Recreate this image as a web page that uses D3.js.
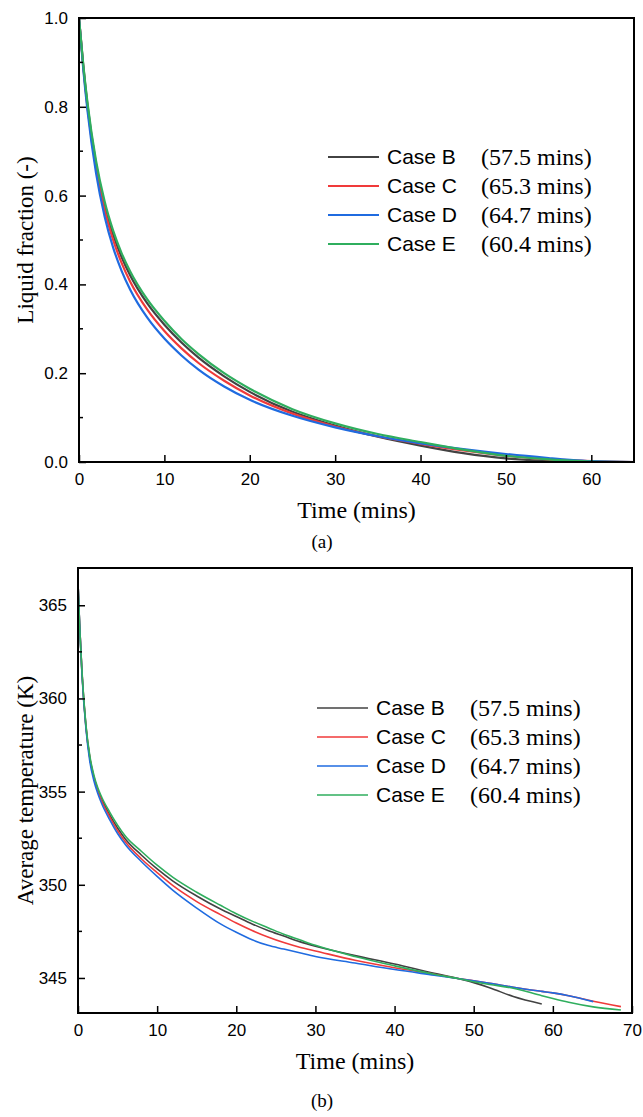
<!DOCTYPE html>
<html>
<head>
<meta charset="utf-8">
<script src="https://cdn.jsdelivr.net/npm/d3@7"></script>
<style>
  body { margin: 0; background: #fff; }
  svg { display: block; }
  .tick text { font-family: "Liberation Sans", Arial, sans-serif; font-size: 17px; fill: #000; }
</style>
</head>
<body>
<svg id="chart" width="643" height="1117"></svg>
<script>
// ---- data ----
let cases = ["Case B", "Case C", "Case D", "Case E"];
let caseTimes = ["(57.5 mins)", "(65.3 mins)", "(64.7 mins)", "(60.4 mins)"];
let caseColors = ["#424242", "#f03a3a", "#1f6be0", "#2fae5e"];

// (a) liquid fraction
let timeA = [0, 0.5, 1, 2, 3, 4, 5, 6, 8, 10, 12, 14, 17, 20, 25, 30, 35, 40, 45, 50, 55, 57.5, 60, 65];
let fracB = [1.0, 0.893, 0.803, 0.670, 0.578, 0.512, 0.461, 0.420, 0.357, 0.309, 0.269, 0.235, 0.193, 0.158, 0.113, 0.082, 0.057, 0.037, 0.020, 0.008, 0.002, 0.0, null, null];
let fracC = [1.0, 0.890, 0.798, 0.662, 0.568, 0.500, 0.448, 0.406, 0.343, 0.295, 0.256, 0.223, 0.183, 0.150, 0.109, 0.080, 0.058, 0.041, 0.026, 0.014, 0.006, 0.004, 0.002, 0.0];
let fracD = [1.0, 0.885, 0.790, 0.650, 0.553, 0.483, 0.430, 0.388, 0.325, 0.278, 0.240, 0.208, 0.170, 0.140, 0.104, 0.078, 0.058, 0.042, 0.029, 0.018, 0.009, 0.005, 0.002, 0.0];
let fracE = [1.0, 0.895, 0.808, 0.678, 0.587, 0.521, 0.470, 0.429, 0.366, 0.318, 0.277, 0.243, 0.200, 0.165, 0.119, 0.087, 0.063, 0.045, 0.028, 0.014, 0.006, 0.003, 0.001, 0.0];

// (b) average temperature
let timeB = [0, 0.2, 0.5, 1, 1.5, 2, 2.5, 3, 4, 5, 6, 8, 10, 12, 15, 18, 20, 22, 24, 26, 28, 30, 35, 40, 45, 48, 50, 52, 55, 58.6, 60, 62, 65.1, 68.6];
let tempB = [366.2, 364.0, 361.4, 358.5, 356.8, 355.8, 355.1, 354.6, 353.75, 353.05, 352.45, 351.6, 350.85, 350.2, 349.4, 348.7, 348.3, 347.9, 347.55, 347.25, 346.95, 346.7, 346.2, 345.75, 345.25, 344.97, 344.75, 344.48, 344.0, 343.6, null, null, null, null];
let tempC = [366.2, 364.0, 361.4, 358.5, 356.8, 355.75, 355.05, 354.5, 353.65, 352.9, 352.3, 351.4, 350.65, 349.95, 349.1, 348.4, 347.95, 347.55, 347.2, 346.9, 346.65, 346.45, 345.95, 345.55, 345.2, 344.97, 344.85, 344.72, 344.5, 344.28, 344.2, 344.05, 343.75, 343.46];
let tempD = [366.2, 364.0, 361.3, 358.4, 356.6, 355.6, 354.9, 354.35, 353.5, 352.75, 352.15, 351.25, 350.45, 349.7, 348.75, 347.9, 347.45, 347.05, 346.75, 346.55, 346.35, 346.15, 345.8, 345.45, 345.15, 344.97, 344.85, 344.72, 344.5, 344.28, 344.2, 344.05, 343.73, null];
let tempE = [366.2, 364.0, 361.5, 358.6, 356.9, 355.9, 355.2, 354.7, 353.9, 353.2, 352.6, 351.8, 351.05, 350.4, 349.6, 348.9, 348.45, 348.05, 347.7, 347.35, 347.05, 346.75, 346.15, 345.65, 345.2, 344.97, 344.8, 344.65, 344.45, 344.05, 343.9, 343.7, 343.45, 343.28];

let xTicksA = [0, 10, 20, 30, 40, 50, 60];
let yTicksA = [0.0, 0.2, 0.4, 0.6, 0.8, 1.0];
let xTicksB = [0, 10, 20, 30, 40, 50, 60, 70];
let yTicksB = [345, 350, 355, 360, 365];

let svg = d3.select("#chart");

// draws one panel
function drawPanel(opt) {
  let g = svg.append("g");
  let x = d3.scaleLinear().domain(opt.xDomain).range([opt.left, opt.right]);
  let y = d3.scaleLinear().domain(opt.yDomain).range([opt.bottom, opt.top]);

  g.append("defs").append("clipPath").attr("id", opt.id + "clip")
    .append("rect")
    .attr("x", opt.left).attr("y", opt.top)
    .attr("width", opt.right - opt.left).attr("height", opt.bottom - opt.top);

  // lines
  let line = d3.line()
    .x(d => x(d[0]))
    .y(d => y(d[1]))
    .curve(d3.curveMonotoneX);
  let lines = g.append("g").attr("clip-path", "url(#" + opt.id + "clip)");
  opt.series.forEach(function (s, i) {
    let pts = opt.times.map((t, j) => [t, s[j]]).filter(d => d[1] != null);
    lines.append("path")
      .attr("d", line(pts))
      .attr("fill", "none")
      .attr("stroke", caseColors[i])
      .attr("stroke-width", opt.lineWidth);
  });

  // frame
  g.append("rect")
    .attr("x", opt.left).attr("y", opt.top)
    .attr("width", opt.right - opt.left).attr("height", opt.bottom - opt.top)
    .attr("fill", "none").attr("stroke", "#000").attr("stroke-width", 2);

  // axes, ticks inward
  let xAxis = d3.axisBottom(x).tickValues(opt.xTicks).tickSizeInner(-7).tickSizeOuter(0)
    .tickPadding(11).tickFormat(d3.format("d"));
  g.append("g").attr("transform", "translate(0," + opt.bottom + ")").call(xAxis)
    .call(a => a.select(".domain").remove())
    .call(a => a.selectAll("line").attr("stroke-width", 1.5));

  let yAxis = d3.axisLeft(y).tickValues(opt.yTicks).tickSizeInner(-7).tickSizeOuter(0)
    .tickPadding(11).tickFormat(opt.yFormat);
  g.append("g").attr("transform", "translate(" + opt.left + ",0)").call(yAxis)
    .call(a => a.select(".domain").remove())
    .call(a => a.selectAll("line").attr("stroke-width", 1.5));

  // minor y ticks
  let minor = g.append("g");
  opt.yMinor.forEach(function (v) {
    minor.append("line")
      .attr("x1", opt.left).attr("x2", opt.left + 4)
      .attr("y1", y(v)).attr("y2", y(v))
      .attr("stroke", "#000").attr("stroke-width", 1.5);
  });

  // titles
  g.append("text")
    .attr("x", (opt.left + opt.right) / 2).attr("y", opt.bottom + 56)
    .attr("text-anchor", "middle")
    .style("font-family", "'Liberation Serif', 'Times New Roman', serif")
    .style("font-size", "24px")
    .text("Time (mins)");
  g.append("text")
    .attr("transform", "translate(" + 33 + "," + ((opt.top + opt.bottom) / 2) + ") rotate(-90)")
    .attr("text-anchor", "middle")
    .style("font-family", "'Liberation Serif', 'Times New Roman', serif")
    .style("font-size", "23px")
    .text(opt.yTitle);
  g.append("text")
    .attr("x", 322).attr("y", opt.bottom + opt.labelGap)
    .attr("text-anchor", "middle")
    .style("font-family", "'Liberation Serif', 'Times New Roman', serif")
    .style("font-size", "19px")
    .text(opt.panel);

  // legend
  let leg = g.append("g");
  cases.forEach(function (c, i) {
    let ly = opt.legendY + i * opt.legendStep;
    leg.append("line")
      .attr("x1", opt.legendX).attr("x2", opt.legendX + 51)
      .attr("y1", ly).attr("y2", ly)
      .attr("stroke", caseColors[i]).attr("stroke-width", opt.lineWidth);
    leg.append("text")
      .attr("x", opt.legendX + 59).attr("y", ly + 7)
      .style("font-family", "'Liberation Sans', Arial, sans-serif")
      .style("font-size", "21px")
      .text(c);
    leg.append("text")
      .attr("x", opt.legendX + 153).attr("y", ly + 8)
      .style("font-family", "'Liberation Serif', 'Times New Roman', serif")
      .style("font-size", "24px")
      .text(caseTimes[i]);
  });
}

drawPanel({
  id: "a",
  left: 79, right: 634, top: 18, bottom: 462,
  xDomain: [0, 65], yDomain: [0, 1],
  xTicks: xTicksA, yTicks: yTicksA,
  yMinor: [0.1, 0.3, 0.5, 0.7, 0.9],
  yFormat: d3.format(".1f"),
  times: timeA, series: [fracB, fracC, fracD, fracE],
  lineWidth: 2.2,
  yTitle: "Liquid fraction (-)",
  panel: "(a)", labelGap: 86,
  legendX: 328, legendY: 157, legendStep: 29
});

drawPanel({
  id: "b",
  left: 78, right: 632, top: 568, bottom: 1013,
  xDomain: [0, 70], yDomain: [343.12, 367],
  xTicks: xTicksB, yTicks: yTicksB,
  yMinor: [347.5, 352.5, 357.5, 362.5],
  yFormat: d3.format("d"),
  times: timeB, series: [tempB, tempC, tempD, tempE],
  lineWidth: 1.6,
  yTitle: "Average temperature (K)",
  panel: "(b)", labelGap: 94,
  legendX: 317, legendY: 708, legendStep: 29
});
</script>
</body>
</html>
